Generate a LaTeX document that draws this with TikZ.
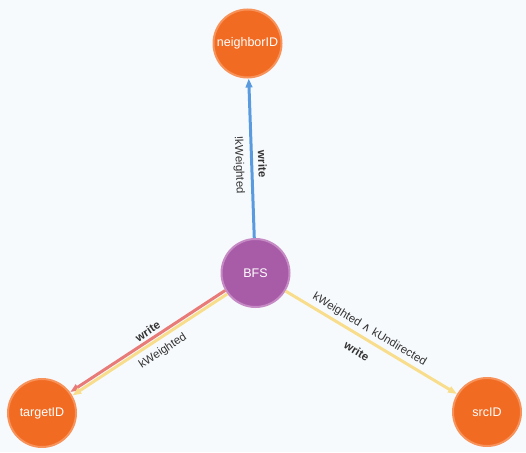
\documentclass[tikz,border=0pt]{standalone}
\usepackage{fontspec}
\setmainfont{Liberation Sans}
\newfontfamily\symfont{DejaVu Sans}
\usetikzlibrary{arrows.meta}

\definecolor{bg}{HTML}{F7FAFD}
\definecolor{orangeN}{HTML}{F26B22}
\definecolor{orangeB}{HTML}{F7925A}
\definecolor{purpleN}{HTML}{A85CA8}
\definecolor{purpleB}{HTML}{C68BC4}
\definecolor{blueE}{HTML}{5A9BE0}
\definecolor{redE}{HTML}{E87A78}
\definecolor{yellowE}{HTML}{F8DE8C}
\definecolor{txt}{HTML}{333333}

\begin{document}
\begin{tikzpicture}[x=1pt,y=-1pt,
  nodecirc/.style={circle, minimum size=68pt, inner sep=0pt, line width=2pt,
    text=white, font=\fontsize{12.5}{14}\selectfont},
  orangenode/.style={nodecirc, fill=orangeN, draw=orangeB},
  purplenode/.style={nodecirc, fill=purpleN, draw=purpleB},
  conn/.style={line width=3pt, -{Triangle[length=9pt,width=6.5pt]}},
  elabel/.style={sloped, font=\fontsize{11.5}{13}\selectfont, text=txt, inner sep=0pt},
  bl/.style={elabel, font=\fontsize{11.5}{13}\selectfont\bfseries},
]
\fill[bg] (0,0) rectangle (526,452);
\useasboundingbox (0,0) rectangle (526,452);

\node[orangenode] (nb) at (247.5,43.5) {neighborID};
\node[purplenode] (bfs) at (255.5,273) {BFS};
\node[orangenode] (tg) at (42,413) {targetID};
\node[orangenode] (src) at (487,412) {srcID};

% BFS -> neighborID
\draw[conn, draw=blueE, -{Triangle[length=9pt,width=6.5pt,fill=blueE]}] (bfs) -- (nb)
  node[bl, pos=0.46, above=5pt] {write}
  node[elabel, pos=0.46, below=6pt] {!kWeighted};

% BFS -> targetID (two parallel lines)
\draw[conn, draw=redE, transform canvas={shift={(-1.1pt,1.7pt)}}] (bfs) -- (tg);
\draw[conn, draw=yellowE, transform canvas={shift={(1.1pt,-1.7pt)}}] (bfs) -- (tg);
\path (bfs) -- (tg)
  node[bl, pos=0.47, above=6pt] {write}
  node[elabel, pos=0.46, below=9pt] {kWeighted};

% BFS -> srcID
\draw[conn, draw=yellowE] (bfs) -- (src)
  node[elabel, pos=0.46, above=3pt] {kWeighted {\symfont ∧} kUndirected}
  node[bl, pos=0.46, below=9pt] {write};
\end{tikzpicture}
\end{document}
